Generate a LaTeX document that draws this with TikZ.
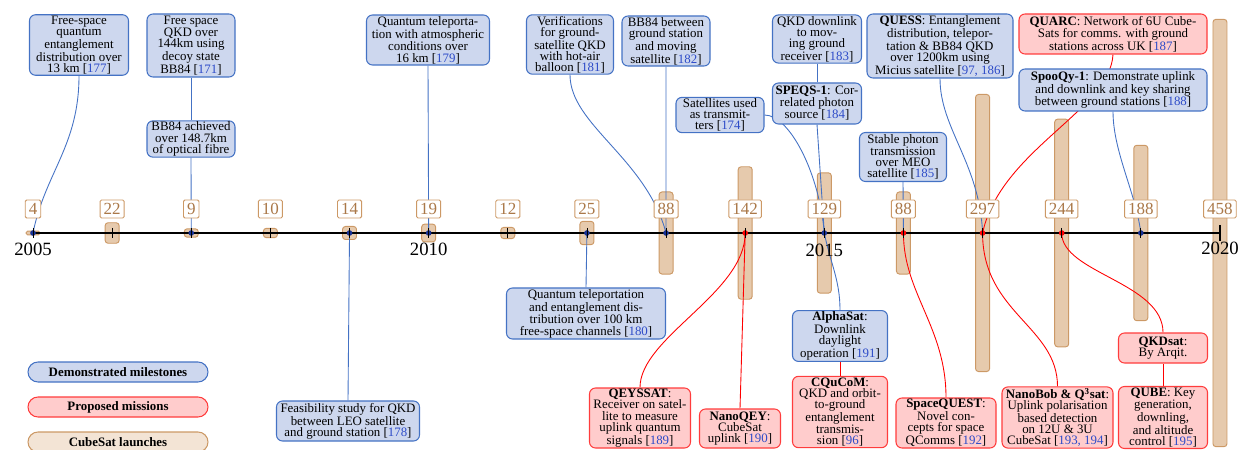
\documentclass[tikz,border=0pt]{standalone}
\usepackage{fontspec}
\setmainfont{Liberation Serif}
\usepackage{tikz}
\usetikzlibrary{scopes}
\definecolor{msfill}{RGB}{205,215,238}
\definecolor{msline}{RGB}{68,114,196}
\definecolor{pmfill}{RGB}{255,204,204}
\definecolor{pmline}{RGB}{255,60,60}
\definecolor{csfill}{RGB}{230,202,173}
\definecolor{csline}{RGB}{204,153,102}
\definecolor{cstext}{RGB}{170,120,72}
\definecolor{cslegend}{RGB}{243,228,213}
\definecolor{citeblue}{RGB}{45,75,200}
\definecolor{dotblue}{RGB}{25,50,150}
\newcommand\citeref[1]{[{\color{citeblue}#1}]}
\pgfdeclarelayer{background layer}
\pgfdeclarelayer{foreground layer}
\pgfsetlayers{background layer,main,foreground layer}

\begin{document}
\begin{tikzpicture}[
    x=0.3mm,y=-0.3mm,
    eventbox/.style={rectangle,rounded corners=1.8mm,line width=0.9pt,align=center,inner sep=1pt,font=\fontsize{11}{9.5}\selectfont},
    milestone/.style={eventbox,draw=msline,fill=msfill},
    mission/.style={eventbox,draw=pmline,fill=pmfill},
    legendbox/.style={rectangle,rounded corners=3mm,line width=0.9pt,minimum width=54mm,minimum height=6mm,inner sep=0pt,font=\fontsize{11}{11}\selectfont\bfseries},
    launch/.style={draw=csline,fill=csfill,line width=0.8pt},
    launchcount/.style={rectangle,rounded corners=1.2pt,draw=csline,fill=white,text=cstext,line width=0.8pt,inner xsep=3pt,inner ysep=1pt,minimum height=5.4mm,font=\fontsize{14.5}{14.5}\selectfont},
    yearlabel/.style={font=\fontsize{16}{16}\selectfont},
    bluedot/.style={circle,fill=dotblue,inner sep=0pt,minimum size=1.7mm},
    reddot/.style={circle,fill=red,inner sep=0pt,minimum size=1.7mm},
    bline/.style={draw=msline,line width=0.75pt},
    rline/.style={draw=red,line width=0.75pt},
]
    \useasboundingbox (0,0) rectangle (1249,450);
    \foreach \i in {0,...,15}
        \coordinate (y\i) at (33+79.13*\i,233);

    \begin{pgfonlayer}{background layer}
        \foreach \i/\n in {0/4,1/22,2/9,3/10,4/14,5/19,6/12,7/25,8/88,9/142,10/129,11/88,12/297,13/244,14/188,15/458} {
            \pgfmathsetmacro\hh{0.4665*\n}
            \pgfmathsetmacro\rr{min(2.5,0.75*\hh)}
            \draw[launch,rounded corners=\rr pt] (y\i) ++(-7,-\hh) rectangle ++(14,2*\hh);
        }
    \end{pgfonlayer}

    \begin{pgfonlayer}{foreground layer}
        \node[milestone,minimum width=29.7mm,minimum height=18mm] (ent13) at (79,45) {Free-space\\quantum\\entanglement\\distribution over\\13 km \citeref{177}};
        \node[milestone,minimum width=26.4mm,minimum height=18.9mm] (qkd144) at (191,45.5) {Free space\\QKD over\\144km using\\decoy state\\BB84 \citeref{171}};
        \node[milestone,minimum width=26.4mm,minimum height=10.8mm] (fibre) at (191,139) {BB84 achieved\\over 148.7km\\of optical fibre};
        \node[milestone,minimum width=36.9mm,minimum height=15mm] (tele16) at (428,40) {Quantum teleporta-\\tion with atmospheric\\conditions over\\16 km \citeref{179}};
        \node[milestone,minimum width=26.1mm,minimum height=17.7mm] (balloon) at (570,44.5) {Verifications\\for ground-\\satellite QKD\\with hot-air\\balloon \citeref{181}};
        \node[milestone,minimum width=26.4mm,minimum height=15mm] (moving) at (666,41) {BB84 between\\ground station\\and moving\\satellite \citeref{182}};
        \node[milestone,minimum width=26.7mm,minimum height=14.4mm] (downlink) at (817,39) {QKD downlink\\to mov-\\ing ground\\receiver \citeref{183}};
        \node[milestone,minimum width=26.7mm,minimum height=12.3mm] (speqs) at (817,103.5) {\textbf{SPEQS-1}: Cor-\\related photon\\source \citeref{184}};
        \node[milestone,minimum width=26.4mm,minimum height=10.5mm] (transmit) at (720,115) {Satellites used\\as transmit-\\ters \citeref{174}};
        \node[milestone,minimum width=43.8mm,minimum height=19.2mm] (quess) at (940,46) {\textbf{QUESS}: Entanglement\\distribution, telepor-\\tation \& BB84 QKD\\over 1200km using\\Micius satellite \citeref{97, 186}};
        \node[mission,minimum width=56.4mm,minimum height=12mm] (quarc) at (1113,34) {\textbf{QUARC}: Network of 6U Cube-\\Sats for comms. with ground\\stations across UK \citeref{187}};
        \node[milestone,minimum width=56.4mm,minimum height=12.6mm] (spooqy) at (1113,90) {\textbf{SpooQy-1}: Demonstrate uplink\\and downlink and key sharing\\between ground stations \citeref{188}};
        \node[milestone,minimum width=26.1mm,minimum height=14.7mm] (meo) at (903,157) {Stable photon\\transmission\\over MEO\\satellite \citeref{185}};
        \node[milestone,minimum width=42.9mm,minimum height=12mm] (leo) at (348,421) {Feasibility study for QKD\\between LEO satellite\\and ground station \citeref{178}};
        \node[milestone,minimum width=47.7mm,minimum height=15.3mm] (tele100) at (586,313.5) {Quantum teleportation\\and entanglement dis-\\tribution over 100 km\\free-space channels \citeref{180}};
        \node[milestone,minimum width=28.5mm,minimum height=15mm] (alphasat) at (840,336) {\textbf{AlphaSat}:\\Downlink\\daylight\\operation \citeref{191}};
        \node[mission,minimum width=28.5mm,minimum height=21mm] (cqucom) at (840,412) {\textbf{CQuCoM}:\\QKD and orbit-\\to-ground\\entanglement\\transmis-\\sion \citeref{96}};
        \node[mission,minimum width=30.3mm,minimum height=18mm] (qeyssat) at (640,418) {\textbf{QEYSSAT}:\\Receiver on satel-\\lite to measure\\uplink quantum\\signals \citeref{189}};
        \node[mission,minimum width=24.3mm,minimum height=11.7mm] (nanoqey) at (740,428.5) {\textbf{NanoQEY}:\\CubeSat\\uplink \citeref{190}};
        \node[mission,minimum width=30mm,minimum height=15mm] (spacequest) at (946,423) {\textbf{SpaceQUEST}:\\Novel con-\\cepts for space\\QComms \citeref{192}};
        \node[mission,minimum width=33.3mm,minimum height=18.3mm] (nanobob) at (1057.5,417.5) {\textbf{NanoBob \& Q\textsuperscript{3}sat}:\\Uplink polarisation\\based detection\\on 12U \& 3U\\CubeSat \citeref{193, 194}};
        \node[mission,minimum width=26.7mm,minimum height=9mm] (qkdsat) at (1163,348) {\textbf{QKDsat}:\\By Arqit.};
        \node[mission,minimum width=26.7mm,minimum height=18.3mm] (qube) at (1163,417.5) {\textbf{QUBE}: Key\\generation,\\downling,\\and altitude\\control \citeref{195}};

        \node[legendbox,draw=msline,fill=msfill] (legms) at (118,372) {Demonstrated milestones};
        \node[legendbox,draw=pmline,fill=pmfill] (legpm) at (118,407) {Proposed missions};
        \node[legendbox,draw=csline,fill=cslegend] (legcs) at (118,442) {CubeSat launches};

        \foreach \i/\n in {0/4,1/22,2/9,3/10,4/14,5/19,6/12,7/25,8/88,9/142,10/129,11/88,12/297,13/244,14/188,15/458}
            \node[launchcount] (c\i) at (33+79.13*\i,209) {\n};
        \foreach \i in {0,2,4,5,7,8,10,14}
            \node[bluedot] (d\i) at (y\i) {};
        \foreach \i in {9,11,12,13}
            \node[reddot] (d\i) at (y\i) {};
        \foreach \i in {0,...,14}
            \draw[line width=0.6pt] (y\i) +(0,-5) -- +(0,5);
        \draw[line width=1.3pt] (y15) +(0,-8) -- +(0,8);
    \end{pgfonlayer}

    \draw[line width=1.3pt] (y0) -- (y15);
    {[bline]
        \draw (ent13.south) .. controls +(0,70) and +(12,-60) .. (y0);
        \draw (qkd144.south) -- (fibre.north);
        \draw (fibre.south) -- (y2);
        \draw (tele16.south) -- (y5);
        \draw (balloon.south) .. controls +(0,50) and +(-20,-75) .. (y8);
        \draw (moving.south) -- (y8);
        \draw (downlink.south) -- (speqs.north);
        \draw (speqs.south) -- (y10);
        \draw (transmit.east) .. controls +(25,0) and +(-5,-60) .. (y10);
        \draw (y10) .. controls +(6,30) and +(0,-30) .. (alphasat.north);
        \draw (quess.south) .. controls +(0,50) and +(-3,-70) .. (y12);
        \draw (spooqy.south) .. controls +(0,40) and +(-5,-40) .. (y14);
        \draw (meo.south) -- (y11);
        \draw (leo.north) -- (y4);
        \draw (tele100.north) -- (y7);
    }
    {[rline]
        \draw (quarc.south) .. controls +(-3,56) and +(18,-83) .. (y12);
        \draw (cqucom.north) -- (alphasat.south);
        \draw (qeyssat.north) .. controls +(0,-50) and +(0,60) .. (y9);
        \draw (nanoqey.north) -- (y9);
        \draw (spacequest.north) .. controls +(0,-70) and +(0,60) .. (y11);
        \draw (nanobob.north) .. controls +(0,-60) and +(0,80) .. (y12);
        \draw (qkdsat.north) .. controls +(0,-50) and +(0,40) .. (y13);
        \draw (qube.north) -- (qkdsat.south);
    }

    \node[yearlabel] (yr2005) at (33,249) {2005};
    \node[yearlabel] (yr2010) at (428.65,249) {2010};
    \node[yearlabel] (yr2015) at (824.3,250) {2015};
    \node[yearlabel] (yr2020) at (1220,248) {2020};
\end{tikzpicture}
\end{document}
